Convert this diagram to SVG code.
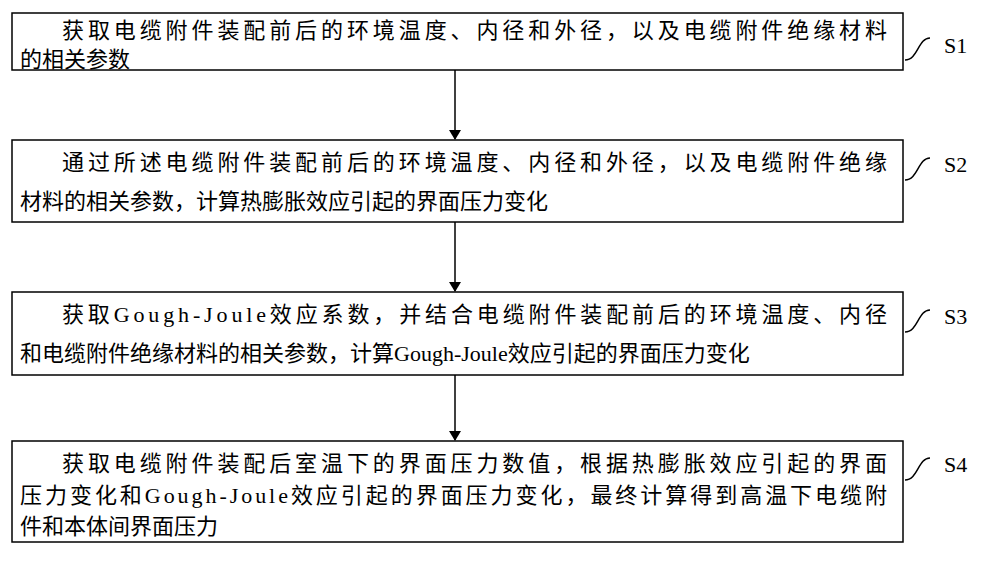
<svg xmlns="http://www.w3.org/2000/svg" width="1000" height="567" viewBox="0 0 1000 567">
<style>
.b{fill:#fff;stroke:#000;stroke-width:1.5}
.t{font-family:"Liberation Serif","Noto Sans CJK SC",serif;font-size:22px;fill:#000}
.s{font-family:"Liberation Serif","Noto Sans CJK SC",serif;font-size:22px;fill:#000}
.c{fill:none;stroke:#000;stroke-width:1.5}
</style>
<defs><marker id="a" markerWidth="10" markerHeight="12" refX="9" refY="6" orient="auto" markerUnits="userSpaceOnUse"><path d="M0,0L10,6L0,12z" fill="#000"/></marker></defs>
<rect width="1000" height="567" fill="#fff"/>
<g id="n1"><rect class="b" x="12" y="13" width="891" height="57"/>
<text class="t" x="62" y="38" textLength="825" lengthAdjust="spacing">获取电缆附件装配前后的环境温度、内径和外径，以及电缆附件绝缘材料</text>
<text class="t" x="20" y="67">的相关参数</text>
<path class="c" d="M905,60 C918,60 918,38 930,38"/><text class="s" x="944" y="53">S1</text></g>
<g id="n2"><rect class="b" x="12" y="140" width="891" height="82"/>
<text class="t" x="62" y="170" textLength="825" lengthAdjust="spacing">通过所述电缆附件装配前后的环境温度、内径和外径，以及电缆附件绝缘</text>
<text class="t" x="20" y="209">材料的相关参数，计算热膨胀效应引起的界面压力变化</text>
<path class="c" d="M905,180 C918,180 918,158 930,158"/><text class="s" x="944" y="172">S2</text></g>
<g id="n3"><rect class="b" x="12" y="292" width="891" height="83"/>
<text class="t" x="62" y="322" textLength="825" lengthAdjust="spacing">获取Gough-Joule效应系数，并结合电缆附件装配前后的环境温度、内径</text>
<text class="t" x="20" y="361">和电缆附件绝缘材料的相关参数，计算Gough-Joule效应引起的界面压力变化</text>
<path class="c" d="M905,332 C918,332 918,310 930,310"/><text class="s" x="944" y="324">S3</text></g>
<g id="n4"><rect class="b" x="12" y="441" width="891" height="101"/>
<text class="t" x="62" y="471" textLength="825" lengthAdjust="spacing">获取电缆附件装配后室温下的界面压力数值，根据热膨胀效应引起的界面</text>
<text class="t" x="20" y="503" textLength="867" lengthAdjust="spacing">压力变化和Gough-Joule效应引起的界面压力变化，最终计算得到高温下电缆附</text>
<text class="t" x="20" y="534">件和本体间界面压力</text>
<path class="c" d="M905,480 C918,480 918,458 930,458"/><text class="s" x="944" y="472">S4</text></g>
<g id="connectors" stroke="#000" stroke-width="1.5">
<line x1="455" y1="70" x2="455" y2="139" marker-end="url(#a)"/>
<line x1="455" y1="222" x2="455" y2="291" marker-end="url(#a)"/>
<line x1="455" y1="375" x2="455" y2="440" marker-end="url(#a)"/>
</g>
</svg>
